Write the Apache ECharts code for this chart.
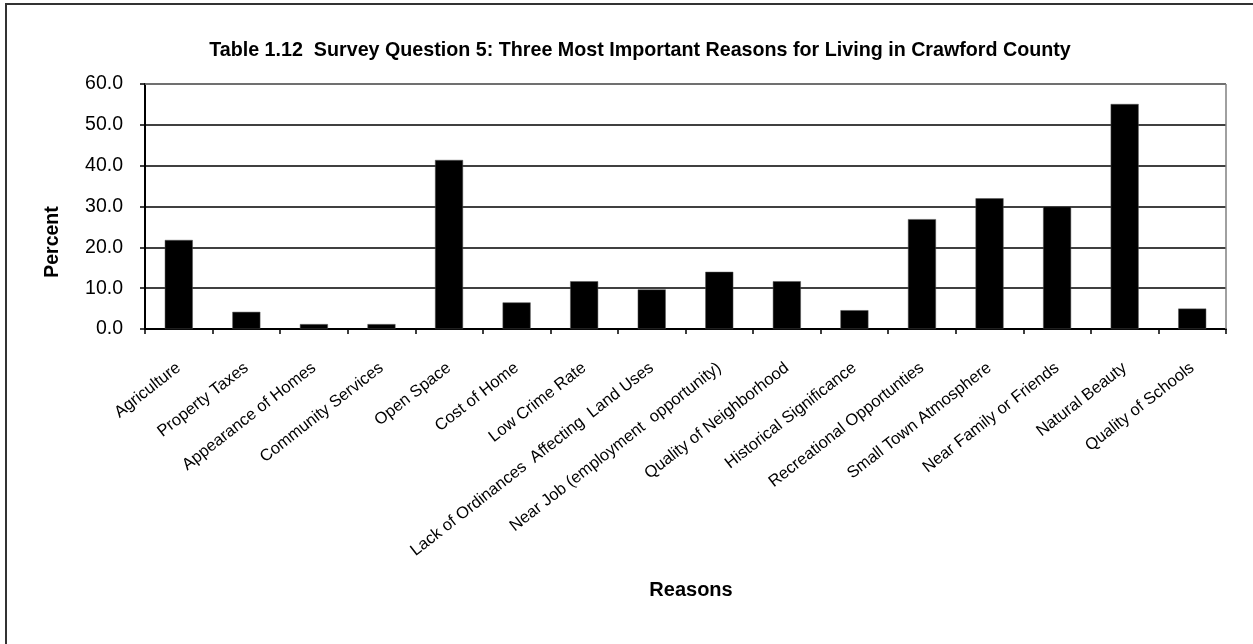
<!DOCTYPE html>
<html>
<head>
<meta charset="utf-8">
<script src="https://cdn.jsdelivr.net/npm/echarts@6/dist/echarts.min.js"></script>
<style>
html,body{margin:0;padding:0;background:#fff;}
#chart{width:1253px;height:644px;}
</style>
</head>
<body>
<div id="chart"></div>
<script>
// Survey reasons and the share of respondents (percent) naming each
const reasons = [
  'Agriculture', 'Property Taxes', 'Appearance of Homes', 'Community Services',
  'Open Space', 'Cost of Home', 'Low Crime Rate', 'Lack of Ordinances  Affecting  Land Uses',
  'Near Job (employment  opportunity)', 'Quality of Neighborhood', 'Historical Significance',
  'Recreational Opportunties', 'Small Town Atmosphere', 'Near Family or Friends',
  'Natural Beauty', 'Quality of Schools'
];
const percents = [21.8, 4.2, 1.2, 1.2, 41.4, 6.5, 11.7, 9.7, 14.0, 11.7, 4.6, 26.9, 32.0, 30.0, 55.1, 5.0];
const yTicks = { min: 0, max: 60, interval: 10 };

const FONT = 'Liberation Sans, Arial, sans-serif';
const chart = echarts.init(document.getElementById('chart'), null, { renderer: 'canvas' });

chart.setOption({
  backgroundColor: '#ffffff',
  animation: false,
  title: {
    text: 'Table 1.12  Survey Question 5: Three Most Important Reasons for Living in Crawford County',
    left: 635, top: 36, textAlign: 'center',
    textStyle: { fontFamily: FONT, fontWeight: 'bold', fontSize: 19.7, color: '#000' }
  },
  graphic: [
    // outer frame
    { type: 'rect', shape: { x: 6, y: 4, width: 1300, height: 700 },
      style: { fill: 'none', stroke: '#333', lineWidth: 2 }, silent: true },
    // plot-area frame (top and right edges)
    { type: 'line', shape: { x1: 145, y1: 84, x2: 1226, y2: 84 },
      style: { stroke: '#808080', lineWidth: 1.5 }, z: 1 },
    { type: 'line', shape: { x1: 1226, y1: 84, x2: 1226, y2: 329 },
      style: { stroke: '#808080', lineWidth: 1.5 }, z: 1 },
    // axis titles
    { type: 'text', x: 53, y: 242, rotation: Math.PI / 2,
      style: { text: 'Percent', font: 'bold 19.5px ' + FONT, fill: '#000',
               align: 'center', verticalAlign: 'middle' } },
    { type: 'text', x: 691, y: 590,
      style: { text: 'Reasons', font: 'bold 20px ' + FONT, fill: '#000',
               align: 'center', verticalAlign: 'middle' } }
  ],
  grid: { left: 145, right: 27, top: 84, bottom: 315, containLabel: false },
  xAxis: {
    type: 'category',
    data: reasons,
    axisLine: { lineStyle: { color: '#000', width: 2 } },
    axisTick: { show: true, alignWithLabel: false, length: 5, lineStyle: { color: '#000', width: 1.5 } },
    axisLabel: {
      interval: 0, rotate: 38, margin: 37,
      fontFamily: FONT, fontSize: 16.5, color: '#000'
    }
  },
  yAxis: {
    type: 'value',
    min: yTicks.min, max: yTicks.max, interval: yTicks.interval,
    axisLine: { show: true, lineStyle: { color: '#000', width: 2 } },
    axisTick: { show: true, length: 5, lineStyle: { color: '#000', width: 1.5 } },
    axisLabel: {
      formatter: v => v.toFixed(1),
      fontFamily: FONT, fontSize: 19.5, color: '#000', margin: 22
    },
    splitLine: { show: true, lineStyle: { color: '#000', width: 1.5 } }
  },
  series: [{
    type: 'bar',
    data: percents,
    barWidth: 28,
    itemStyle: { color: '#000', borderColor: '#555', borderWidth: 0.5 }
  }]
});
</script>
</body>
</html>
